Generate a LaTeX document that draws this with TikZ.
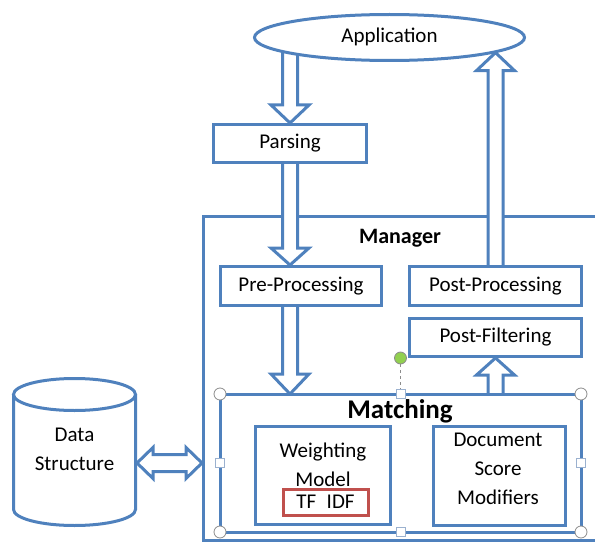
\documentclass[tikz,border=0pt]{standalone}
\usepackage{fontspec}
\setmainfont{Carlito}
\usetikzlibrary{shapes.geometric,calc,backgrounds}
\definecolor{boxblue}{HTML}{4F81BD}
\definecolor{tfred}{HTML}{C0504D}
\definecolor{handlegray}{HTML}{8C8C8C}
\definecolor{handleblue}{HTML}{9BB1CF}
\definecolor{handlegreen}{HTML}{92D050}

% hollow vertical block arrow: #1 tail, #2 tip, #3 signed head length
\newcommand{\vblock}[3]{%
  \draw[blockarrow] ($(#1)+(-7.5,0)$) -- ($(#2)+(-7.5,#3)$) -- ($(#2)+(-19,#3)$) -- (#2)
    -- ($(#2)+(19,#3)$) -- ($(#2)+(7.5,#3)$) -- ($(#1)+(7.5,0)$);}

\begin{document}
\begin{tikzpicture}[x=1pt,y=-1pt,
  lbl/.style={font=\fontsize{21}{29}\selectfont,align=center,inner sep=0},
  stepbox/.style={draw=boxblue,line width=3pt,fill=white,inner sep=0},
  blockarrow/.style={draw=boxblue,line width=3pt,fill=white,line join=miter},
  cornerhandle/.style={circle,draw=handlegray,fill=white,line width=0.8pt,minimum size=12,inner sep=0},
  sidehandle/.style={rectangle,draw=handleblue,fill=white,line width=0.8pt,minimum size=9,inner sep=0}]
\useasboundingbox (0,0) rectangle (595,543);

\node[stepbox,ellipse,minimum width=270,minimum height=46] (app) at (389.5,37.5) {};
\node[lbl] (applbl) at ($(app)+(0,-1)$) {Application};
\node[stepbox,minimum width=153,minimum height=38,lbl] (parsing) at (290,143.5) {Parsing};
\node[lbl,font=\bfseries\fontsize{22}{24}\selectfont] (mgrlbl) at (400,238) {Manager};
\node[stepbox,minimum width=161,minimum height=39,lbl] (pre) at (301,286) {Pre-Processing};
\node[stepbox,minimum width=172,minimum height=39,lbl] (postproc) at (495.5,286) {Post-Processing};
\node[stepbox,minimum width=172,minimum height=38,lbl] (postfilt) at (495.5,337.5) {Post-Filtering};

% Matching block
\node[stepbox,minimum width=361,minimum height=138,outer sep=0] (match) at (400.5,463) {};
\node[lbl,font=\bfseries\fontsize{27}{30}\selectfont] (matchlbl) at (400,411) {Matching};
\node[stepbox,minimum width=135,minimum height=98] (wbox) at (323,475.5) {};
\node[lbl] (wlbl) at (323,464.5) {Weighting\\Model};
\node[stepbox,draw=tfred,minimum width=85,minimum height=26,lbl] (tfidf) at (325.5,502) {TF\enspace IDF};
\node[stepbox,minimum width=132,minimum height=99] (dbox) at (499,476) {};
\node[lbl] (dlbl) at (498,469) {Document\\Score\\Modifiers};

% Data structure
\node[minimum width=125,minimum height=150,inner sep=0,outer sep=0] (data) at (74.5,452) {};
\draw[boxblue,line width=3pt,fill=white] ($(data)+(-61,-57.5)$) -- ($(data)+(-61,57.5)$)
  arc[start angle=180,end angle=0,x radius=61,y radius=16] -- ($(data)+(61,-57.5)$);
\draw[boxblue,line width=3pt,fill=white] ($(data)+(0,-57.5)$) ellipse [x radius=61,y radius=16];
\node[lbl] (datalbl) at (74.5,449.5) {Data\\Structure};

% selection handles
\foreach \a [count=\i] in {north west,north east,south west,south east}
  \node[cornerhandle] (hc\i) at (match.\a) {};
\foreach \a [count=\i] in {north,west,east,south}
  \node[sidehandle] (hs\i) at (match.\a) {};
\node[circle,draw=handlegray,fill=handlegreen,line width=0.8pt,minimum size=12,inner sep=0] (hrot) at ($(match.north)+(0,-36)$) {};
\draw[handlegray,dashed,line width=0.8pt] (hrot) -- (hs1);

\begin{pgfonlayer}{background}
\node[draw=boxblue,line width=3pt,minimum width=395,minimum height=324,inner sep=0] (mgr) at (401,378) {};
\vblock{parsing |- app.center}{parsing.north}{-18}
\vblock{parsing.center}{parsing |- pre.north}{-17}
\vblock{parsing |- pre.center}{parsing |- match.north}{-20}
\vblock{postproc.center}{postproc |- app.-8.5}{18}
\vblock{postfilt |- match.center}{postfilt.south}{17}
% double arrow to the data structure
\coordinate (dl) at (data.east |- match.center);
\coordinate (dr) at (mgr.west |- match.center);
\draw[blockarrow] (dl) -- ($(dl)+(16,-15.5)$) -- ($(dl)+(16,-8.5)$) -- ($(dr)+(-16,-8.5)$)
  -- ($(dr)+(-16,-15.5)$) -- (dr) -- ($(dr)+(-16,15.5)$) -- ($(dr)+(-16,8.5)$)
  -- ($(dl)+(16,8.5)$) -- ($(dl)+(16,15.5)$) -- cycle;
\end{pgfonlayer}
\end{tikzpicture}
\end{document}
